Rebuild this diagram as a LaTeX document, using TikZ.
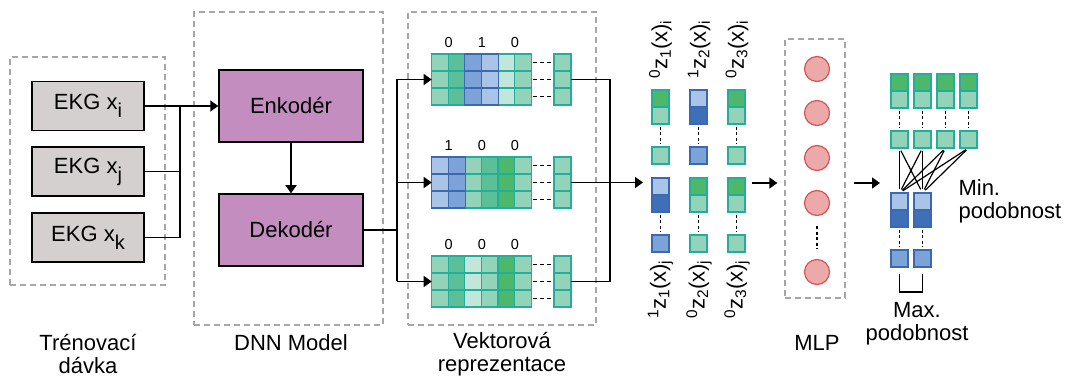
\documentclass[tikz,border=0pt]{standalone}
\usepackage{fontspec}
\setmainfont{Liberation Sans}
\usetikzlibrary{arrows.meta}
\definecolor{ekggray}{HTML}{D3D0CF}
\definecolor{dnnpurple}{HTML}{C38DBF}
\definecolor{dashgray}{HTML}{A6A6A6}
\definecolor{tealbd}{HTML}{22AE9B}
\definecolor{bluebd}{HTML}{3B69B0}
\definecolor{tealLt}{HTML}{93D3BA}
\definecolor{tealMd}{HTML}{5BBF98}
\definecolor{greenDk}{HTML}{4DB76A}
\definecolor{tealVl}{HTML}{C2E6DA}
\definecolor{blueLt}{HTML}{A9C4E7}
\definecolor{blueMd}{HTML}{7BA3D7}
\definecolor{blueDk}{HTML}{3F6FB7}
\definecolor{neuronfill}{HTML}{EBA9A9}
\definecolor{neuronbd}{HTML}{D9534F}
\newcommand{\ekgidx}[1]{\raisebox{-0.36em}{\fontsize{20}{20}\selectfont #1}}
\begin{document}
\begin{tikzpicture}[x=1pt, y=-1pt, font=\fontsize{22}{23}\selectfont,
  conn/.style={line width=1.5pt},
  arr/.style={conn, -{Triangle[length=8pt, width=11pt]}},
  grpbox/.style={draw=dashgray, dash pattern=on 6pt off 4pt, line width=1.3pt, inner sep=0pt},
  ekg/.style={draw, line width=1.5pt, fill=ekggray, minimum width=112pt, minimum height=49pt, inner sep=0pt},
  stage/.style={draw, line width=1.5pt, fill=dnnpurple, minimum width=144pt, minimum height=72pt, inner sep=0pt},
  grplabel/.style={align=center},
  cell/.style={minimum width=17pt, minimum height=17pt, inner sep=0pt, outer sep=0pt, anchor=north west, line width=1.2pt},
  lt/.style={fill=tealLt, draw=tealbd},
  md/.style={fill=tealMd, draw=tealbd},
  gn/.style={fill=greenDk, draw=tealbd},
  vl/.style={fill=tealVl, draw=tealbd},
  lb/.style={fill=blueLt, draw=bluebd},
  mb/.style={fill=blueMd, draw=bluebd},
  db/.style={fill=blueDk, draw=bluebd},
  vdots/.style={line width=1.5pt, dash pattern=on 3pt off 2.5pt, shorten <=3pt, shorten >=3pt},
  hdots/.style={line width=1.5pt, dash pattern=on 4pt off 2.8pt, shorten <=2pt, shorten >=2pt},
  neuron/.style={circle, draw=neuronbd, fill=neuronfill, line width=1.2pt, minimum size=25pt, inner sep=0pt},
  zlabel/.style={rotate=90, inner sep=0pt},
  digit/.style={font=\fontsize{14.5}{16}\selectfont}]
  \useasboundingbox (0,0) rectangle (1069,379);

  \node[grpbox, minimum width=155pt, minimum height=228pt] (batch) at (87.5,171) {};
  \node[grpbox, minimum width=189pt, minimum height=313pt] (dnn) at (288.5,168.5) {};
  \node[grpbox, minimum width=188pt, minimum height=313pt] (vec) at (502,168.5) {};
  \node[grpbox, minimum width=60pt, minimum height=259pt] (mlp) at (815,168.5) {};

  \node[ekg] (xi) at (88,106) {EKG x\ekgidx{i}};
  \node[ekg] (xj) at (88,171.5) {EKG x\ekgidx{j}};
  \node[ekg] (xk) at (88,237.5) {EKG x\ekgidx{k}};
  \node[stage] (enc) at (291,106) {Enkodér};
  \node[stage] (dec) at (291,230) {Dekodér};

  \coordinate (jn) at (180,106);
  \draw[conn] (xj.east) -| (jn);
  \draw[conn] (xk.east) -| (jn);
  \draw[arr] (xi.east) -- (enc.west);
  \draw[arr] (enc) -- (dec);

  \foreach \gy/\cols/\digs [count=\g] in {54/{1/lt,2/md,5/vl,6/lt,3/mb,4/lb}/{0,1,0},
      157/{3/lt,4/md,5/gn,6/lt,1/lb,2/mb}/{1,0,0},
      256/{1/lt,2/md,3/vl,4/lt,5/gn,6/lt}/{0,0,0}} {
    \foreach \c/\s in \cols {
      \foreach \r in {0,1,2}
        \node[cell, \s] (g\g c\c r\r) at ({431.7+(\c-1)*16.55}, {\gy+\r*17}) {};
    }
    \foreach \r in {0,1,2} {
      \node[cell, lt] (g\g c7r\r) at (554, {\gy+\r*17}) {};
      \draw[hdots] (g\g c6r\r.east) -- (g\g c7r\r.west);
    }
    \foreach \d [count=\k] in \digs
      \node[digit] (d\g\k) at ({431.7+(2*\k-1)*16.55+0.5}, \gy-11) {\d};
  }

  \coordinate (jl) at (397,230);
  \draw[conn] (dec.east) -- (jl);
  \draw[conn] (jl |- g1c1r1) -- (jl |- g3c1r1);
  \foreach \g in {1,2,3}
    \draw[arr] (jl |- g\g c1r1) -- (g\g c1r1.west);

  \foreach \x/\y/\a/\b/\c/\n in {652/90/gn/lt/lt/zai, 690/90/lb/db/mb/zbi, 728/90/gn/lt/lt/zci,
      652/178/lb/db/mb/zaj, 690/178/gn/lt/lt/zbj, 728/178/gn/lt/lt/zcj,
      891/74/gn/lt/lt/pa, 914/74/gn/lt/lt/pb, 937/74/gn/lt/lt/pc, 960/74/gn/lt/lt/pd,
      891/193/lb/db/mb/qa, 914/193/lb/db/mb/qb} {
    \node[cell, \a] (\n1) at (\x,\y) {};
    \node[cell, \b] (\n2) at (\x,\y+17) {};
    \node[cell, \c] (\n3) at (\x,\y+57) {};
    \draw[vdots] (\n2.south) -- (\n3.north);
  }

  \foreach \x/\s/\n in {660.5/0/1, 699/1/2, 737/0/3}
    \node[zlabel, anchor=west] (zti\n) at (\x,79) {\textsuperscript{\s}z\textsubscript{\n}(x)\textsubscript{i}};
  \foreach \x/\s/\n in {660.5/1/1, 699/0/2, 737/0/3}
    \node[zlabel, anchor=east] (ztj\n) at (\x,260) {\textsuperscript{\s}z\textsubscript{\n}(x)\textsubscript{j}};

  \coordinate (jr) at (610,183);
  \coordinate (axis) at (0,183);
  \draw[conn] (g1c7r1.east) -| (jr) |- (g3c7r1.east);
  \draw[arr, shorten >=9pt] (g2c7r1.east) -- (g2c7r1.east -| zaj1.west);
  \draw[arr, shorten <=7pt, shorten >=7pt] (zcj1.east |- axis) -- (mlp.west |- axis);

  \foreach \y [count=\k] in {69,113,158,203,272}
    \node[neuron] (n\k) at (817,\y) {};
  \draw[vdots, shorten <=10pt, shorten >=10pt] (n4.south) -- (n5.north);

  \draw[arr, shorten <=8pt, shorten >=11pt] (mlp.east |- axis) -- (pa1.west |- axis);

  \foreach \a in {pa,pb,pc,pd}
    \foreach \b in {qa,qb}
      \draw[line width=1.2pt, shorten <=3pt, shorten >=4pt] (\a3.south) -- (\b1.north);
  \draw[conn] ([yshift=-7pt]qa3.south) -- ++(0,18) -| ([yshift=-7pt]qb3.south);

  \node[grplabel] (batchlbl) at (88,354) {Trénovací\\dávka};
  \node[grplabel] (dnnlbl) at (291,343) {DNN Model};
  \node[grplabel] (veclbl) at (502,354) {Vektorová\\reprezentace};
  \node[grplabel] (mlplbl) at (817,343) {MLP};
  \node[grplabel] (maxlbl) at (917,324) {Max.\\podobnost};
  \node[align=left, anchor=west] (minlbl) at (955,201) {Min.\\podobnost};
\end{tikzpicture}
\end{document}
